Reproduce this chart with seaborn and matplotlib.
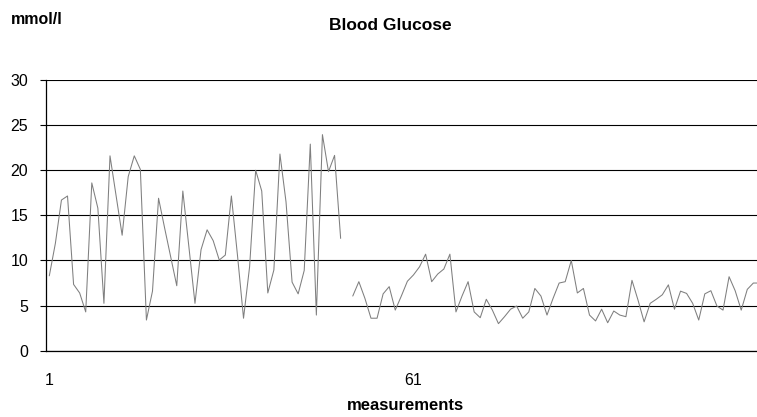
import numpy as np
import pandas as pd
import matplotlib
matplotlib.use("Agg")
import matplotlib.pyplot as plt
import seaborn as sns

# Blood glucose readings (mmol/l), one per measurement; NaN = missing reading
glucose = [
    8.3, 11.9, 16.7, 17.15, 7.35, 6.4, 4.3, 18.6, 15.8, 5.25,
    21.6, 17.2, 12.8, 19.3, 21.6, 20.1, 3.4, 6.6, 16.9, 13.6,
    10.4, 7.2, 17.7, 11.5, 5.25, 11.2, 13.4, 12.2, 10.05, 10.6,
    17.15, 10.6, 3.6, 9.3, 20.0, 17.7, 6.4, 8.95, 21.8, 16.5,
    7.6, 6.3, 8.9, 22.9, 3.95, 23.95, 19.85, 21.65, 12.45, np.nan,
    6.06, 7.65, 5.8, 3.6, 3.6, 6.3, 7.1, 4.5, 6.06, 7.7,
    8.4, 9.3, 10.7, 7.65, 8.5, 9.05, 10.7, 4.3, 6.06, 7.65,
    4.3, 3.66, 5.7, 4.5, 3.0, 3.77, 4.6, 4.95, 3.6, 4.3,
    6.9, 6.06, 3.95, 5.8, 7.5, 7.65, 10.0, 6.4, 6.9, 3.95,
    3.3, 4.6, 3.1, 4.4, 3.95, 3.77, 7.8, 5.6, 3.2, 5.25,
    5.7, 6.2, 7.3, 4.6, 6.6, 6.35, 5.25, 3.4, 6.3, 6.65,
    4.95, 4.5, 8.2, 6.65, 4.5, 6.8, 7.5, 7.5,
]
measurement = list(range(1, len(glucose) + 1))
x_ticks = [1, 61]
y_ticks = [0, 5, 10, 15, 20, 25, 30]

df = pd.DataFrame({"measurement": measurement, "glucose": glucose})
# split the line where a reading is missing
df["segment"] = df["glucose"].isna().cumsum()
df = df.dropna()

sns.set_theme(style="white")
plt.rcParams["font.family"] = ["Liberation Sans", "DejaVu Sans"]
plt.rcParams["text.color"] = "black"

fig = plt.figure(figsize=(7.57, 4.17), dpi=100)
ax = fig.add_axes([0.0604, 0.159, 0.9396, 0.649])

ax.yaxis.grid(True, color="black", linewidth=0.8)
ax.set_axisbelow(True)

sns.lineplot(data=df, x="measurement", y="glucose", units="segment",
             estimator=None, color="#7f7f7f", linewidth=0.75, ax=ax)

ax.set_xlim(0.41, 117.6)
ax.set_ylim(0, 30)
ax.set_xticks(x_ticks)
ax.set_yticks(y_ticks)
ax.set_xlabel("")
ax.set_ylabel("")

for side in ["top", "right"]:
    ax.spines[side].set_visible(False)
for side in ["left", "bottom"]:
    ax.spines[side].set_color("black")
    ax.spines[side].set_linewidth(0.9)

ax.tick_params(axis="y", which="major", left=True, length=4.5, width=0.8,
               color="black", pad=8, labelsize=11.5, labelcolor="black")
ax.tick_params(axis="x", which="major", bottom=False, length=0, pad=16,
               labelsize=11.5, labelcolor="black")

fig.text(10.7 / 757, 1 - 20 / 417, "mmol/l", fontsize=11.5, fontweight="bold",
         ha="left", va="center", color="black")
fig.text(390 / 757, 1 - 26 / 417, "Blood Glucose", fontsize=12.5,
         fontweight="bold", ha="center", va="center", color="black")
fig.text(405 / 757, 1 - 405 / 417, "measurements", fontsize=12,
         fontweight="bold", ha="center", va="center", color="black")

fig.savefig("out.png", dpi=100, facecolor="white")
